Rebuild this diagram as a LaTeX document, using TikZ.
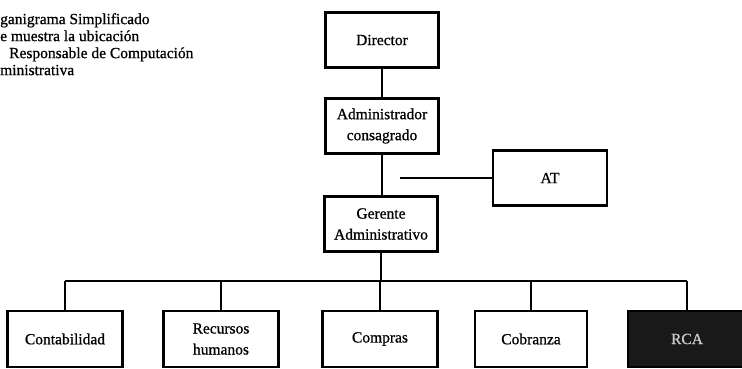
\documentclass[tikz,border=0pt]{standalone}
\usepackage{fontspec}
\setmainfont{Liberation Serif}[FakeBold=0.8]
\usetikzlibrary{positioning}
\tikzset{>=latex}
\tikzset{
  caja/.style={draw, line width=2.2pt, minimum width=113pt, minimum height=55pt,
    align=center, inner sep=2pt, font=\fontsize{15.5}{21}\selectfont},
  cajabaja/.style={caja, minimum width=115pt, minimum height=56pt},
  linea/.style={line width=2.2pt},
}

\begin{document}
\begin{tikzpicture}[x=1pt,y=-1pt]
\useasboundingbox (0,0) rectangle (742,369);
\node[anchor=north west, align=left, inner sep=0pt, font=\fontsize{15.5}{17}\selectfont] (titulo) at (0,13)
  {ganigrama Simplificado\\e muestra la ubicaci\'on\\\hspace*{9pt}Responsable de Computaci\'on\\ministrativa};

\node[caja] (director) at (382,40) {Director};
\node[caja] (admin) at (382,126) {Administrador\\consagrado};
\node[caja] (gerente) at (381,224) {Gerente\\Administrativo};
\node[caja, minimum width=114pt] (at) at (550,178) {AT};
\coordinate (salida) at (400,178);

\node[cajabaja] (conta) at (65,339) {Contabilidad};
\node[cajabaja] (recur) at (221,339) {Recursos\\humanos};
\node[cajabaja] (compr) at (380,339) {Compras};
\node[cajabaja, minimum width=112pt] (cobra) at (531,339) {Cobranza};
\node[cajabaja, minimum width=118pt, fill=black!90, text=white!80!black] (rca) at (687,339) {RCA};
\coordinate (bus) at (380,281);

\draw[linea] (director) -- (admin);
\draw[linea] (admin.south) -- (admin.south |- gerente.north);
\draw[linea] (salida) -- (at);
\draw[linea] (gerente.south) -- (gerente.south |- bus);
\draw[linea] (conta.north |- bus) -- (rca.north |- bus);
\foreach \n in {conta,recur,compr,cobra,rca}
  \draw[linea] (\n.north) -- (\n.north |- bus);
\end{tikzpicture}
\end{document}
